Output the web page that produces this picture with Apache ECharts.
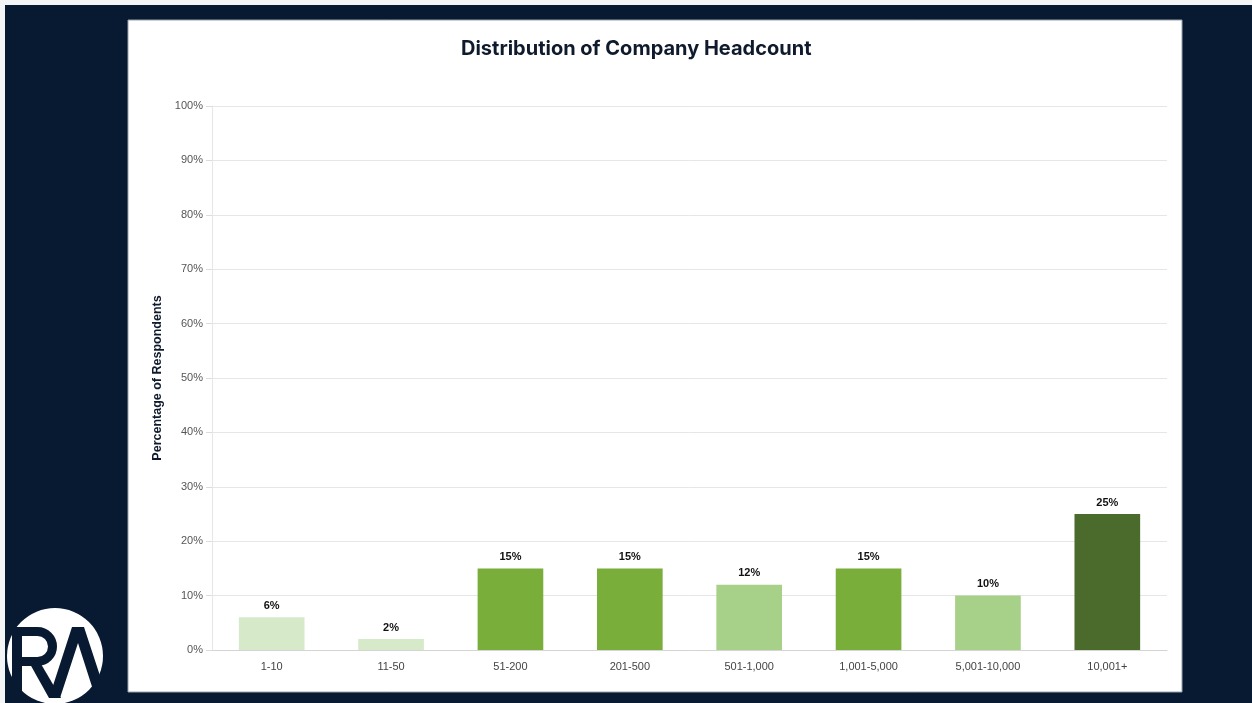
<!DOCTYPE html>
<html>
<head>
<meta charset="utf-8">
<title>Distribution of Company Headcount</title>
<script src="https://cdn.jsdelivr.net/npm/echarts@6/dist/echarts.min.js"></script>
<style>
  html, body { margin: 0; padding: 0; background: #f4f5f7; }
  #chart { width: 1252px; height: 703px; }
</style>
</head>
<body>
<div id="chart"></div>
<script>
// Headcount bands and share of respondents (%)
const categories = ['1-10', '11-50', '51-200', '201-500', '501-1,000', '1,001-5,000', '5,001-10,000', '10,001+'];
const shares = [6, 2, 15, 15, 12, 15, 10, 25];
const barColors = ['#d6eaca', '#d6eaca', '#79ae3b', '#79ae3b', '#a7d089', '#79ae3b', '#a7d089', '#4a6b2b'];
const yTicks = [0, 10, 20, 30, 40, 50, 60, 70, 80, 90, 100];

const NAVY = '#081a31';

const chart = echarts.init(document.getElementById('chart'), null, { renderer: 'canvas' });

chart.setOption({
  animation: false,
  backgroundColor: '#f4f5f7',
  title: {
    text: 'Distribution of Company Headcount',
    left: 461,
    top: 39,
    padding: 0,
    textStyle: { fontFamily: 'Inter', fontWeight: 'bold', fontSize: 20, color: '#0f1a2c' }
  },
  graphic: [
    // navy page frame
    { type: 'rect', z: -10, shape: { x: 5, y: 5, width: 1247, height: 698 }, style: { fill: NAVY } },
    // white card behind the plot
    { type: 'rect', z: -9, shape: { x: 128, y: 20, width: 1054, height: 672 },
      style: { fill: '#ffffff', stroke: '#9aa0a8', lineWidth: 1 } },
    // logo badge: white disc with an "R" and an open "A"
    { type: 'circle', z: 10, shape: { cx: 55, cy: 656, r: 48 }, style: { fill: '#ffffff' } },
    { type: 'rect', z: 11, shape: { x: 12, y: 627, width: 10, height: 71 }, style: { fill: NAVY } },
    { type: 'rect', z: 11, shape: { x: 21, y: 627, width: 17, height: 9 }, style: { fill: NAVY } },
    { type: 'rect', z: 11, shape: { x: 21, y: 657, width: 17, height: 9 }, style: { fill: NAVY } },
    { type: 'arc', z: 11, shape: { cx: 37.5, cy: 646.5, r: 15, startAngle: -Math.PI / 2, endAngle: Math.PI / 2, clockwise: true },
      style: { stroke: NAVY, lineWidth: 9, fill: null } },
    { type: 'polygon', z: 11, shape: { points: [[30, 664], [41, 664], [61, 698], [49, 698]] }, style: { fill: NAVY } },
    { type: 'polygon', z: 11,
      shape: { points: [[49, 698], [72, 627], [84, 627], [104, 688], [95, 696], [78, 643], [60, 698]] },
      style: { fill: NAVY } }
  ],
  grid: { left: 212, right: 85, top: 106, bottom: 53, containLabel: false },
  xAxis: {
    type: 'category',
    data: categories,
    axisLine: { lineStyle: { color: '#d4d4d4', width: 1 } },
    axisTick: { show: false },
    axisLabel: { color: '#444', fontSize: 11, fontFamily: 'Liberation Sans', margin: 11 }
  },
  yAxis: {
    type: 'value',
    min: yTicks[0],
    max: yTicks[yTicks.length - 1],
    interval: 10,
    name: 'Percentage of Respondents',
    nameLocation: 'middle',
    nameGap: 46,
    nameTextStyle: { color: '#0f1a2c', fontWeight: 'bold', fontSize: 12.5, fontFamily: 'Liberation Sans' },
    axisLine: { show: true, lineStyle: { color: '#e6e6e6' } },
    axisTick: { show: true, length: 6, lineStyle: { color: '#dcdcdc' } },
    splitLine: { lineStyle: { color: '#e6e6e6' } },
    axisLabel: { color: '#555', fontSize: 11, fontFamily: 'Liberation Sans', margin: 9, formatter: v => v + '%' }
  },
  series: [{
    type: 'bar',
    barWidth: '55%',
    data: shares.map((v, i) => ({ value: v, itemStyle: { color: barColors[i] } })),
    label: {
      show: true,
      position: 'top',
      distance: 6,
      color: '#111',
      fontWeight: 'bold',
      fontSize: 11,
      fontFamily: 'Liberation Sans',
      formatter: p => p.value + '%'
    }
  }]
});
</script>
</body>
</html>
